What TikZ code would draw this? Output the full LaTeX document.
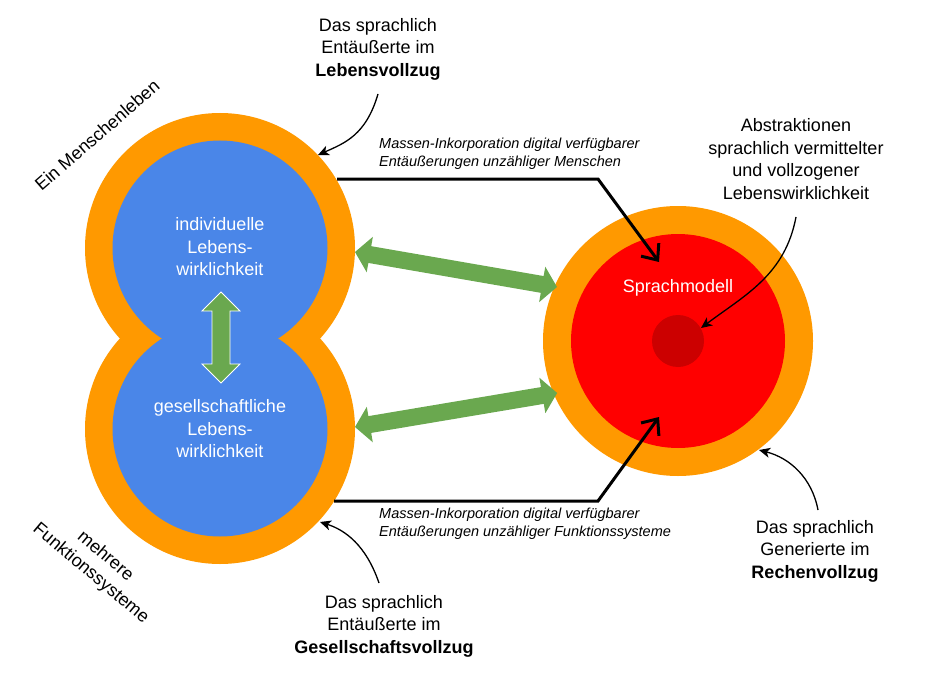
\documentclass[tikz,border=0pt]{standalone}
\usepackage{fontspec}
\setmainfont{Liberation Sans}
\usetikzlibrary{arrows.meta}
\definecolor{cOrange}{HTML}{FF9900}
\definecolor{cBlue}{HTML}{4A86E8}
\definecolor{cRed}{HTML}{FF0000}
\definecolor{cDark}{HTML}{CC0000}
\definecolor{cGreen}{HTML}{6AA84F}
\tikzset{
  disc/.style={circle, inner sep=0pt, minimum size=#1},
  bigtxt/.style={font=\fontsize{18}{22.5}\selectfont, align=center, inner sep=0pt},
  smalltxt/.style={font=\fontsize{14.5}{18}\selectfont\itshape, align=left, inner sep=0pt},
  flow/.style={line width=3pt, line join=miter, -{Straight Barb[length=13pt,width=22pt]}},
  pointer/.style={line width=1.3pt, -{Stealth[length=11pt,width=10pt,inset=3pt]}},
  greenarrow/.style={fill=cGreen}
}
\newcommand{\dblarrow}[6]{% x,y,angle,length,headlen/halfwidth..., extra opts
  \begin{scope}[shift={(#1,#2)}, rotate=#3]
    \fill[greenarrow,#6] (0,0) -- (#5,18) -- (#5,8.5) -- (#4-#5,8.5) -- (#4-#5,18) -- (#4,0)
      -- (#4-#5,-18) -- (#4-#5,-8.5) -- (#5,-8.5) -- (#5,-18) -- cycle;
  \end{scope}}
\begin{document}
\begin{tikzpicture}[x=1pt,y=-1pt]
\path[use as bounding box] (0,0) rectangle (929,682);
% left double circle
\node[disc=270pt, fill=cOrange] (otop) at (220,248) {};
\node[disc=270pt, fill=cOrange] (obot) at (220,429) {};
\node[disc=215pt, fill=cBlue] (btop) at (220,248) {};
\node[disc=215pt, fill=cBlue] (bbot) at (220,429) {};
% right circle
\node[disc=270pt, fill=cOrange] (oright) at (678,341) {};
\node[disc=214pt, fill=cRed] (red) at (678,341) {};
\node[disc=52pt, fill=cDark] (core) at (678,341) {};
% green double arrows
\dblarrow{355}{252}{-9.83}{205}{15}{}
\dblarrow{355}{427}{9.55}{205}{15}{}
\begin{scope}[shift={(221,292)}, rotate=-90]
  \filldraw[greenarrow, draw=white, line width=0.8pt] (0,0) -- (19,19) -- (19,9) -- (72,9) -- (72,19) -- (91,0)
    -- (72,-19) -- (72,-9) -- (19,-9) -- (19,-19) -- cycle;
\end{scope}
% black flow arrows
\coordinate (t0) at (337,179);
\coordinate (t1) at (598,179);
\coordinate (t2) at (659,262);
\coordinate (b0) at (334,501);
\coordinate (b1) at (598,501);
\coordinate (b2) at (659,417);
\draw[flow] (t0) -- (t1) -- (t2);
\draw[flow] (b0) -- (b1) -- (b2);
% texts
\node[bigtxt, text=white] (ind) at (220,247) {individuelle\\Lebens-\\wirklichkeit};
\node[bigtxt, text=white] (ges) at (220,429) {gesellschaftliche\\Lebens-\\wirklichkeit};
\node[bigtxt, text=white] (sm) at (678,288) {Sprachmodell};
\node[bigtxt] (lv) at (378,49) {Das sprachlich\\Entäußerte im\\\textbf{Lebensvollzug}};
\node[bigtxt] (gv) at (384,626) {Das sprachlich\\Entäußerte im\\\textbf{Gesellschaftsvollzug}};
\node[bigtxt] (rv) at (815,551) {Das sprachlich\\Generierte im\\\textbf{Rechenvollzug}};
\node[bigtxt] (abs) at (796,159) {Abstraktionen\\sprachlich vermittelter\\und vollzogener\\Lebenswirklichkeit};
\node[smalltxt, anchor=west] (m1) at (379,154) {Massen-Inkorporation digital verfügbarer\\Entäußerungen unzähliger Menschen};
\node[smalltxt, anchor=west] (m2) at (379,524) {Massen-Inkorporation digital verfügbarer\\Entäußerungen unzähliger Funktionssysteme};
\node[bigtxt, rotate=41] (ml) at (97,135) {Ein Menschenleben};
\node[bigtxt, rotate=-40] (fs) at (98,565) {mehrere\\Funktionssysteme};
% thin pointer arrows
\coordinate (p1s) at (378,94);
\coordinate (p1e) at (318,155);
\coordinate (p2s) at (379,583);
\coordinate (p2e) at (320,522);
\coordinate (p3s) at (818,510);
\coordinate (p3e) at (759,450);
\coordinate (p4s) at (796,217);
\coordinate (p4e) at (701,328);
\draw[pointer] (p1s) .. controls (366,135) and (345,143) .. (p1e);
\draw[pointer] (p2s) .. controls (366,545) and (345,530) .. (p2e);
\draw[pointer] (p3s) .. controls (812,478) and (790,458) .. (p3e);
\draw[pointer] (p4s) .. controls (785,275) and (745,295) .. (p4e);
\end{tikzpicture}
\end{document}
